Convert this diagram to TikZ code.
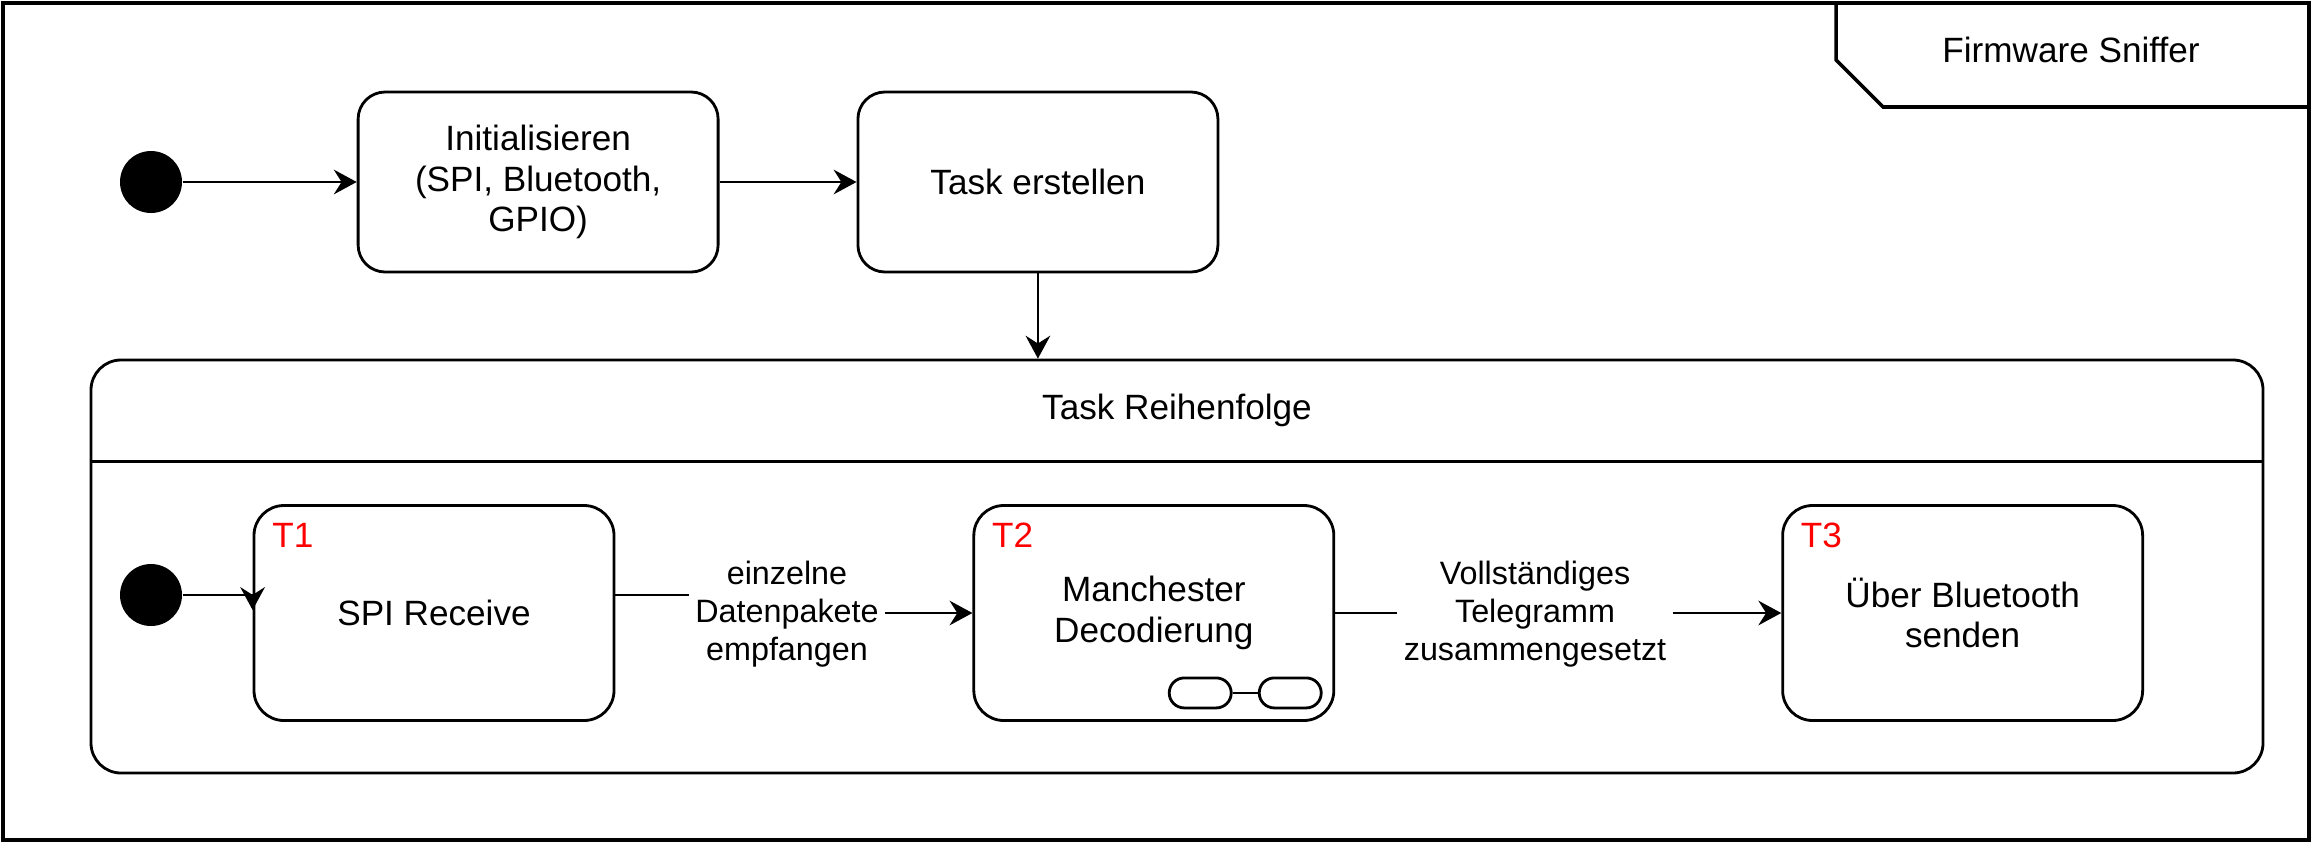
\documentclass[tikz,border=0pt]{standalone}
\usepackage{fontspec}
\setmainfont{Liberation Sans}
\usepackage{xcolor}
\usetikzlibrary{arrows.meta,positioning,calc}
\definecolor{tasknr}{RGB}{255,0,0}

\begin{document}
\begin{tikzpicture}[
    node distance=1.5cm,
    state/.style={draw, line width=0.8pt, rounded corners=0.27cm, minimum width=3.6cm, minimum height=1.8cm, align=center, font=\fontsize{10}{11.6}\selectfont},
    task/.style={state, rounded corners=0.3cm, minimum height=2.15cm},
    startdot/.style={circle, fill=black, minimum size=0.62cm, inner sep=0pt},
    container/.style={draw, line width=0.8pt, rounded corners=0.3cm, minimum width=21.72cm, minimum height=4.13cm},
    frame/.style={draw, line width=1pt, minimum width=23.06cm, minimum height=8.37cm},
    pill/.style={draw, line width=0.8pt, rounded corners=0.15cm, minimum width=0.62cm, minimum height=0.3cm, inner sep=0pt},
    arrow/.style={-{Stealth[length=6.5pt,width=7pt,inset=2.2pt]}, line width=0.75pt},
    line/.style={line width=0.75pt},
    tnum/.style={text=tasknr, font=\fontsize{10}{12}\selectfont, anchor=west, inner sep=0pt},
    edgelabel/.style={align=center, font=\fontsize{9.2}{10.8}\selectfont, inner sep=0.06cm}
]
    \useasboundingbox (0,0) rectangle (23.13,-8.43);

    % Outer frame
    \node[frame] (sniffer) at (11.56,-4.215) {};
    \node[font=\fontsize{10}{12}\selectfont] (title) at (20.71,-0.50) {Firmware Sniffer};
    \draw[line width=1pt] (18.36,-0.03) -- (18.36,-0.60) -- (18.83,-1.07) -- (23.09,-1.07);

    % Setup
    \node[startdot] (start) at (1.51,-1.82) {};
    \node[state, right=1.74cm of start] (init) {Initialisieren\\(SPI, Bluetooth,\\GPIO)};
    \node[state, right=1.37cm of init] (create) {Task erstellen};

    % Task order
    \node[container] (order) at (11.77,-5.665) {};
    \draw[line] ([yshift=-1.03cm]order.north west) -- ([yshift=-1.03cm]order.north east);
    \node[font=\fontsize{10}{12}\selectfont] (ordertitle) at ([yshift=-0.515cm]order.north) {Task Reihenfolge};

    % Tasks
    \node[startdot] (start2) at (1.51,-5.95) {};
    \node[task] (spi) at (4.34,-6.13) {SPI Receive};
    \node[task, right=3.57cm of spi] (decode) {Manchester\\Decodierung};
    \node[task, right=4.46cm of decode] (send) {Über Bluetooth\\senden};
    \node[tnum] (t1) at ([xshift=0.19cm,yshift=-0.31cm]spi.north west) {T1};
    \node[tnum] (t2) at ([xshift=0.19cm,yshift=-0.31cm]decode.north west) {T2};
    \node[tnum] (t3) at ([xshift=0.19cm,yshift=-0.31cm]send.north west) {T3};

    % Sub-state icon
    \node[pill] (sub1) at ([xshift=-1.35cm,yshift=0.29cm]decode.south east) {};
    \node[pill] (sub2) at ([xshift=-0.45cm,yshift=0.29cm]decode.south east) {};
    \draw[line] (sub1) -- (sub2);

    % Labels
    \node[edgelabel] (recvlbl) at (7.87,-6.14) {einzelne\\Datenpakete\\empfangen};
    \node[edgelabel] (telelbl) at (15.35,-6.14) {Vollständiges\\Telegramm\\zusammengesetzt};

    % Connections
    \draw[arrow] (start) -- (init);
    \draw[arrow] (init) -- (create);
    \draw[arrow] (create.south) -- (create.south |- order.north);
    \coordinate (spiin) at ([yshift=0.03cm]spi.west);
    \draw[arrow] (start2) -| (spiin);
    \coordinate (spiout) at ([yshift=0.18cm]spi.east);
    \draw[line] (spiout) -- (spiout -| recvlbl.west);
    \draw[arrow] (recvlbl.east |- decode.west) -- (decode.west);
    \draw[line] (decode.east) -- (decode.east -| telelbl.west);
    \draw[arrow] (telelbl.east |- send.west) -- (send.west);
\end{tikzpicture}
\end{document}
